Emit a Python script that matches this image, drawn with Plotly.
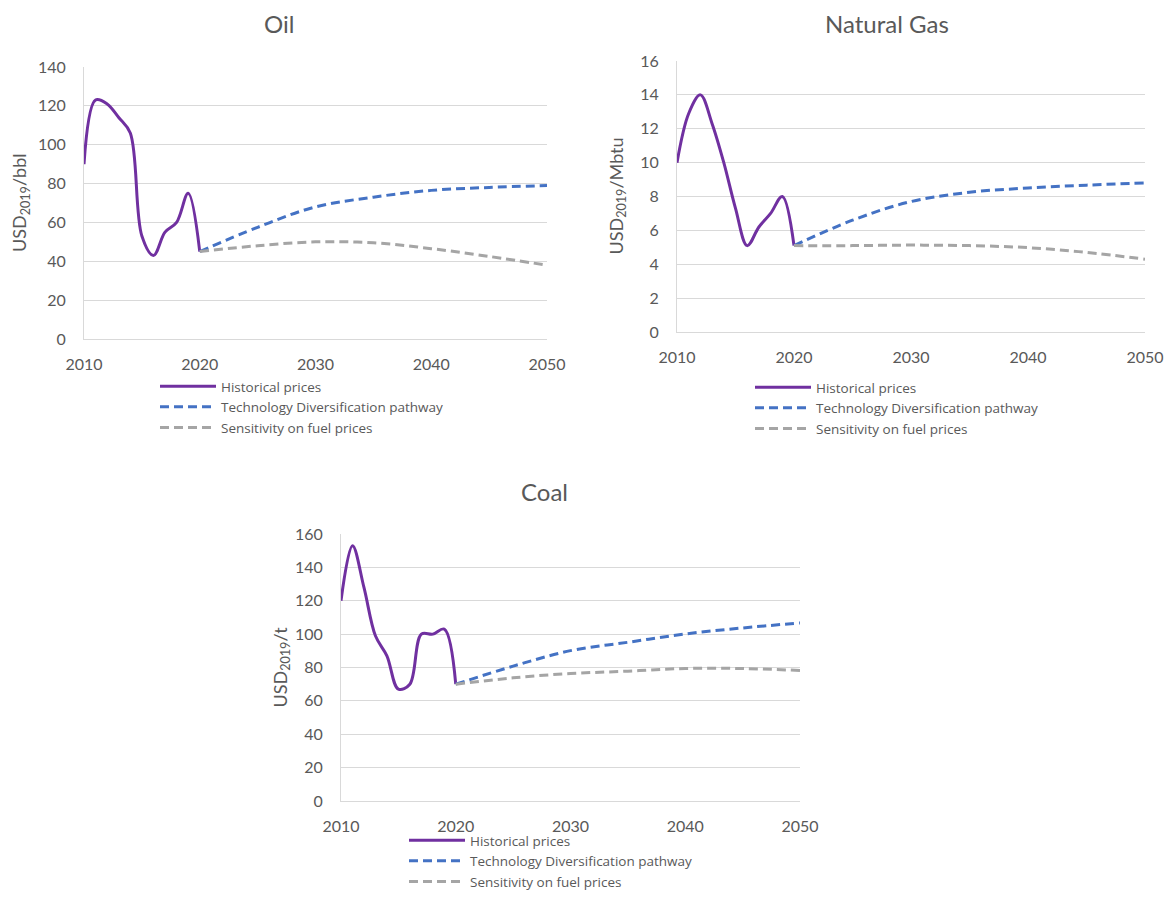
import plotly.graph_objects as go

# The page has an 8px body margin, so the figure is sized to fit the window
W, H = 1158, 887
OFF = 8

# ---------------- data ----------------
hist_years = [2010, 2011, 2012, 2013, 2014, 2015, 2016, 2017, 2018, 2019, 2020]
proj_years = [2020, 2025, 2030, 2035, 2040, 2045, 2050]

oil_hist = [90, 123, 121, 114, 106, 53, 43, 55, 60, 75, 45]
oil_tech = [45, 57.5, 68, 73, 76.5, 78, 79]
oil_sens = [45, 48, 50, 49.5, 46.5, 42.5, 38]

gas_hist = [10, 12.9, 14, 12.3, 10, 7.3, 5.1, 6.2, 7, 8, 5.1]
gas_tech = [5.1, 6.6, 7.7, 8.25, 8.5, 8.67, 8.8]
gas_sens = [5.1, 5.1, 5.13, 5.1, 4.98, 4.7, 4.3]

coal_hist = [120, 153, 128, 99, 87, 67, 70, 100, 100, 103, 70]
coal_tech = [70, 80.8, 90.1, 95.1, 100.1, 103.7, 106.7]
coal_sens = [70, 73.8, 76.4, 77.8, 79.4, 79.4, 78.2]

series_names = ["Historical prices", "Technology Diversification pathway",
                "Sensitivity on fuel prices"]
titles = ["Oil", "Natural Gas", "Coal"]
y_titles = ["USD<sub>2019</sub>/bbl", "USD<sub>2019</sub>/Mbtu", "USD<sub>2019</sub>/t"]
x_ticks = [2010, 2020, 2030, 2040, 2050]
y_ranges = [(0, 140, 20), (0, 16, 2), (0, 160, 20)]

# ---------------- style ----------------
PURPLE = "#7030A0"
BLUE = "#4472C4"
GREY = "#A5A5A5"
TXT = "#595959"
GRID = "#D9D9D9"
FONT = "Lato"
LEGFONT = "Open Sans"

# page-pixel boxes of plot areas: (left, right, top, bottom)
boxes = [(84, 547, 67, 339), (677, 1145, 61, 332), (341, 800, 534, 801)]
title_pos = [(279, 24), (887, 24), (544, 491)]
ytitle_x = [20, 617, 281]
# legend (left, top) in page pixels
legend_pos = [(155, 371), (750, 372), (404, 825)]

def px_x(p):
    return (p - OFF) / W

def px_y(p):
    return 1 - (p - OFF) / H

fig = go.Figure()

datasets = [(oil_hist, oil_tech, oil_sens), (gas_hist, gas_tech, gas_sens),
            (coal_hist, coal_tech, coal_sens)]

layout = dict(
    width=W, height=H, margin=dict(l=0, r=0, t=0, b=0, autoexpand=False),
    paper_bgcolor="white", plot_bgcolor="white",
    font=dict(family=FONT, color=TXT, size=15),
    annotations=[],
)

for i, (hist, tech, sens) in enumerate(datasets):
    n = "" if i == 0 else str(i + 1)
    xa, ya = "x" + n, "y" + n
    leg = "legend" + n
    fig.add_trace(go.Scatter(x=hist_years, y=hist, mode="lines", name=series_names[0],
                             line=dict(color=PURPLE, width=3, shape="spline", smoothing=1),
                             xaxis=xa, yaxis=ya, legend=leg))
    fig.add_trace(go.Scatter(x=proj_years, y=tech, mode="lines", name=series_names[1],
                             line=dict(color=BLUE, width=3, dash="9px,5px", shape="spline"),
                             xaxis=xa, yaxis=ya, legend=leg))
    fig.add_trace(go.Scatter(x=proj_years, y=sens, mode="lines", name=series_names[2],
                             line=dict(color=GREY, width=3, dash="9px,5px", shape="spline"),
                             xaxis=xa, yaxis=ya, legend=leg))
    l, r, t, b = boxes[i]
    y0, y1, dt = y_ranges[i]
    layout["xaxis" + n] = dict(
        domain=[px_x(l), px_x(r)], range=[2010, 2050], anchor=ya,
        tickvals=x_ticks, showgrid=False, zeroline=False, automargin=False,
        showline=True, linecolor=GRID, linewidth=1,
        ticks="", ticklabelstandoff=11,
        tickfont=dict(size=16, color=TXT, family=FONT),
    )
    layout["yaxis" + n] = dict(
        domain=[px_y(b), px_y(t)], range=[y0, y1], anchor=xa,
        dtick=dt, tick0=0, showgrid=True, gridcolor=GRID, gridwidth=1,
        zeroline=False, showline=True, linecolor=GRID, linewidth=1, automargin=False,
        ticks="", ticklabelstandoff=14,
        tickfont=dict(size=16, color=TXT, family=FONT),
    )
    lx, ly = legend_pos[i]
    layout[leg] = dict(
        x=px_x(lx), y=px_y(ly), xanchor="left", yanchor="top",
        bgcolor="rgba(0,0,0,0)", font=dict(size=13.5, color=TXT, family=LEGFONT),
        tracegroupgap=0, itemwidth=56,
    )
    tx, ty = title_pos[i]
    layout["annotations"].append(dict(
        text=titles[i], x=px_x(tx), y=px_y(ty), xref="paper", yref="paper",
        showarrow=False, xanchor="center", yanchor="middle",
        font=dict(size=24, color=TXT, family=FONT)))
    layout["annotations"].append(dict(
        text=y_titles[i], x=px_x(ytitle_x[i]), y=px_y((t + b) / 2),
        xref="paper", yref="paper", showarrow=False, textangle=-90,
        xanchor="center", yanchor="middle",
        font=dict(size=18, color=TXT, family=FONT)))

fig.update_layout(**layout)
fig.write_html("out.html")
